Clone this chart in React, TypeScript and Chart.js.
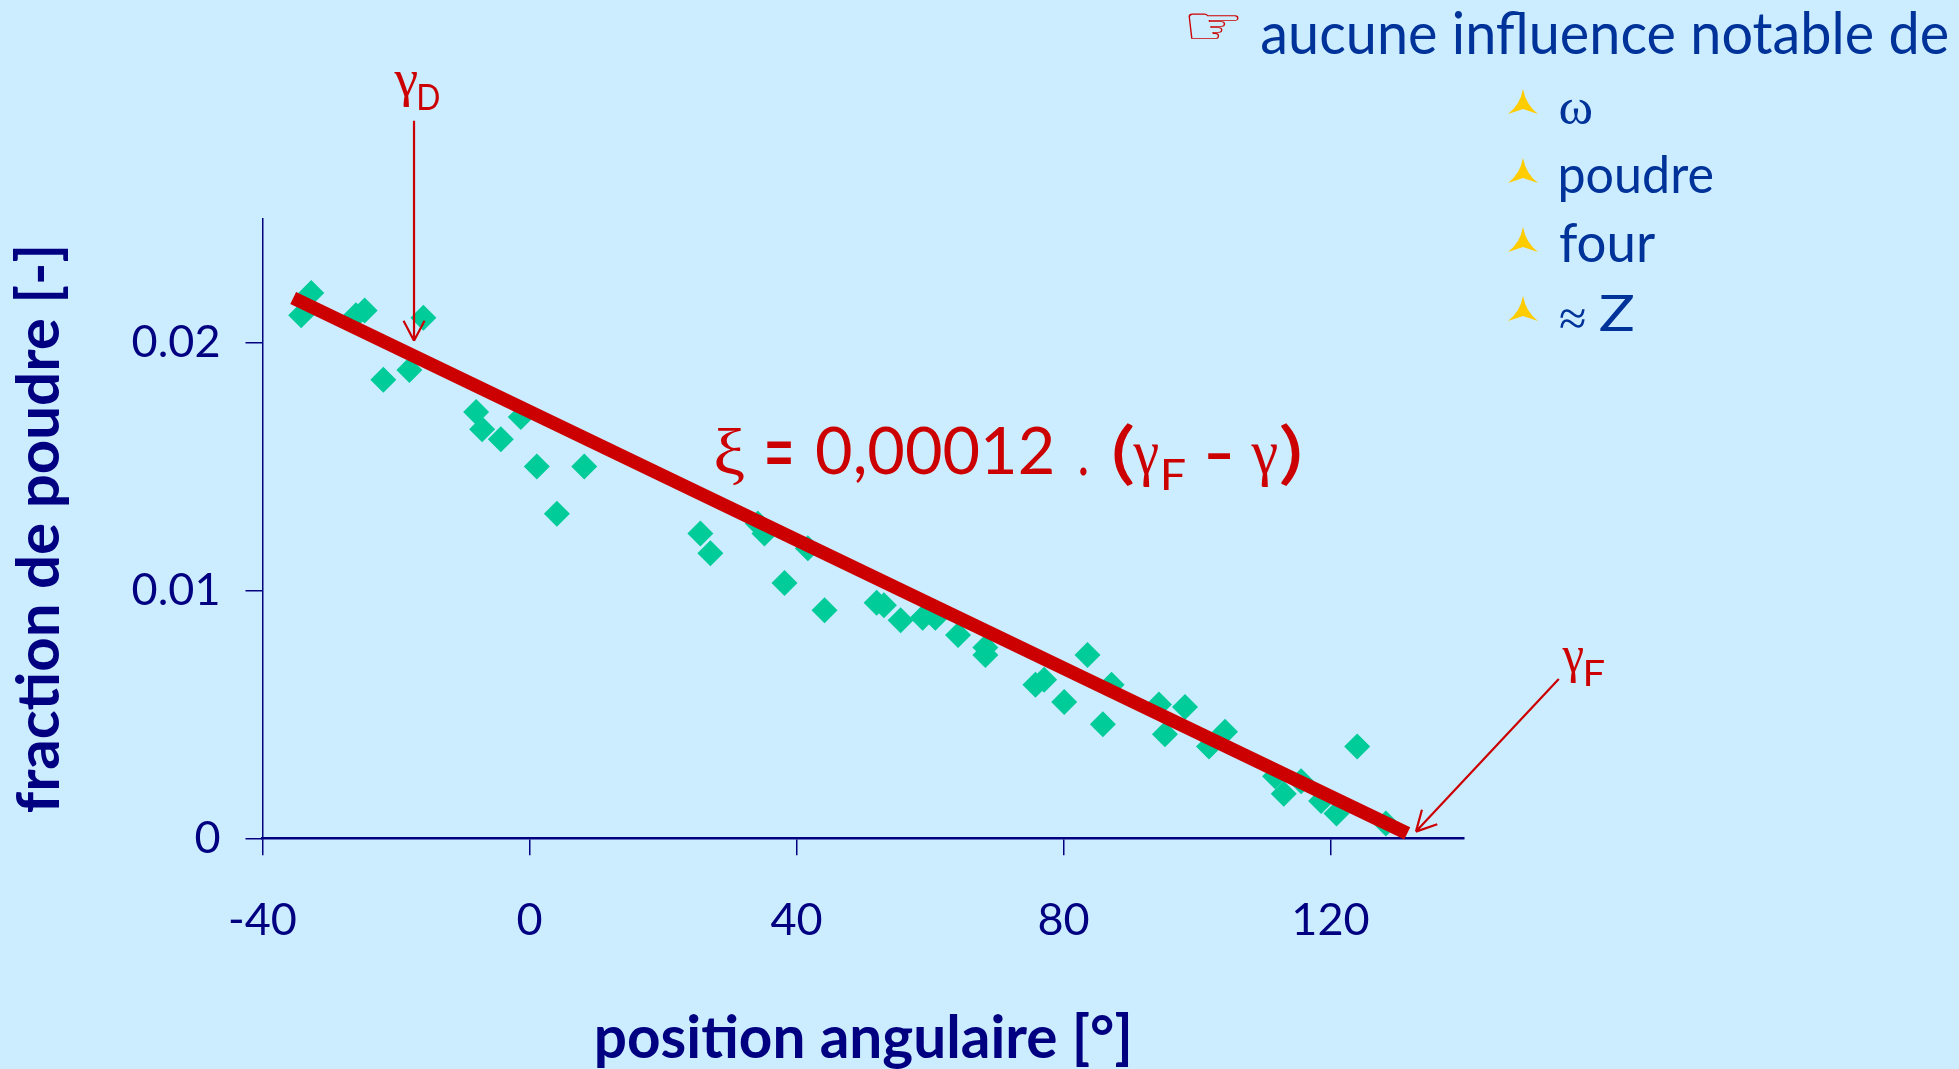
import React, { useEffect, useRef } from "react";
import { Chart, registerables } from "chart.js";

Chart.register(...registerables);

const angleDeg = [-34.2,-32.7,-26.0,-24.7,-15.9,-21.9,-18.0,-8.0,-7.1,-4.3,-1.3,1.1,4.1,8.2,25.6,27.1,34.2,35.2,38.2,41.7,44.2,52.0,53.1,55.6,58.9,60.8,64.2,68.3,68.3,75.8,77.1,80.1,83.6,85.9,87.2,94.3,95.2,98.2,101.8,104.2,111.7,113.0,115.6,118.6,120.9,124.0,128.3];
const powderFraction = [0.0211,0.0220,0.0211,0.0213,0.0210,0.0185,0.0189,0.0172,0.0165,0.0161,0.0170,0.0150,0.0131,0.0150,0.0123,0.0115,0.0127,0.0123,0.0103,0.0117,0.0092,0.0095,0.0094,0.0088,0.0089,0.0089,0.0082,0.0077,0.0074,0.0062,0.0064,0.0055,0.0074,0.0046,0.0062,0.0054,0.0042,0.0053,0.0037,0.0043,0.0025,0.0018,0.0023,0.0015,0.0010,0.0037,0.0006];
const fitX = [-35.4, 131.5];
const fitY = [0.0218, 0.0002];
const arrowGammaD = { fromX: -17.3, fromY: 0.02895, toX: -17.3, toY: 0.02008 };
const arrowGammaF = { fromX: 154.2, fromY: 0.00643, toX: 132.8, toY: 0.00027 };
const xTickValues = [-40, 0, 40, 80, 120];
const yTickLabels: Record<string, string> = { "0": "0", "0.01": "0.01", "0.02": "0.02" };

const RED = "#CC0000";
const NAVY = "#000080";
const BLUE = "#003399";
const YELLOW = "#FFCC00";
const GREEN = "#00CC99";
const BG = "#CCECFF";
const SANS = "Lato";
const SERIF = "'Liberation Serif'";
const DEJAVU = "'DejaVu Sans'";

// text, family, colour, ink box: left, right, top, bottom
type T = [string, string, string, number, number, number, number];
const texts: T[] = [
  ["\u261E", DEJAVU, RED, 1188, 1239, 14, 39],
  ["aucune influence notable de", SANS, BLUE, 1262, 1947, 12, 55],
  ["\u03C9", SERIF, BLUE, 1560, 1591, 100, 124],
  ["poudre", SANS, BLUE, 1561, 1712, 154.5, 202],
  ["four", SANS, BLUE, 1560, 1655, 223, 263],
  ["\u2248", SERIF, BLUE, 1560, 1585, 308.6, 327.6],
  ["Z", SANS, BLUE, 1600, 1633, 295, 331],
  ["\u03BE", SERIF, RED, 716, 744, 429, 486],
  ["=", SANS, RED, 767, 791, 441, 464],
  ["0,00012", SANS, RED, 817, 1052, 425, 483],
  [".", SANS, RED, 1080, 1087, 467, 476],
  ["(", SANS, RED, 1114, 1133, 422, 486],
  ["\u03B3", SERIF, RED, 1133, 1158, 443, 486],
  ["F", SANS, RED, 1164, 1185, 459, 490],
  ["-", SANS, RED, 1208, 1230, 453, 459],
  ["\u03B3", SERIF, RED, 1251, 1277, 443, 486],
  [")", SANS, RED, 1281, 1300, 422, 486],
  ["\u03B3", SERIF, RED, 394, 417, 71, 107],
  ["D", SANS, RED, 419, 439, 83, 110],
  ["\u03B3", SERIF, RED, 1562, 1583, 648, 683],
  ["F", SANS, RED, 1586, 1604, 659, 686],
];
const bulletTops = [89, 158, 227, 296];

const overlay = {
  id: "overlay",
  afterDraw(chart: any) {
    const { ctx, scales } = chart;
    ctx.save();
    ctx.strokeStyle = RED;
    ctx.lineWidth = 2.2;
    for (const a of [arrowGammaD, arrowGammaF]) {
      const x0 = scales.x.getPixelForValue(a.fromX);
      const y0 = scales.y.getPixelForValue(a.fromY);
      const x1 = scales.x.getPixelForValue(a.toX);
      const y1 = scales.y.getPixelForValue(a.toY);
      const ang = Math.atan2(y1 - y0, x1 - x0);
      ctx.beginPath();
      ctx.moveTo(x0, y0);
      ctx.lineTo(x1, y1);
      for (const s of [-1, 1]) {
        ctx.moveTo(x1, y1);
        ctx.lineTo(x1 - 20 * Math.cos(ang) - s * 10.5 * Math.sin(ang), y1 - 20 * Math.sin(ang) + s * 10.5 * Math.cos(ang));
      }
      ctx.stroke();
    }
    ctx.fillStyle = YELLOW;
    for (const t of bulletTops) {
      ctx.beginPath();
      ctx.moveTo(1523, t);
      ctx.quadraticCurveTo(1526, t + 16, 1538, t + 25);
      ctx.lineTo(1523, t + 20);
      ctx.lineTo(1508, t + 25);
      ctx.quadraticCurveTo(1520, t + 16, 1523, t);
      ctx.closePath();
      ctx.fill();
    }
    ctx.textBaseline = "alphabetic";
    ctx.textAlign = "left";
    for (const [s, family, color, left, right, top, bottom] of texts) {
      ctx.font = `100px ${family}`;
      ctx.fillStyle = color;
      const m = ctx.measureText(s);
      const inkW = m.actualBoundingBoxLeft + m.actualBoundingBoxRight;
      const inkH = m.actualBoundingBoxAscent + m.actualBoundingBoxDescent;
      const sx = (right - left) / inkW;
      const sy = (bottom - top) / inkH;
      ctx.save();
      ctx.translate(left + m.actualBoundingBoxLeft * sx, top + m.actualBoundingBoxAscent * sy);
      ctx.scale(sx, sy);
      ctx.fillText(s, 0, 0);
      ctx.restore();
    }
    ctx.restore();
  },
};

export default function App() {
  const ref = useRef<HTMLCanvasElement>(null);
  useEffect(() => {
    document.body.style.margin = "0";
    document.body.style.background = BG;
    const chart = new Chart(ref.current!, {
      type: "scatter",
      data: {
        datasets: [
          {
            data: fitX.map((x, i) => ({ x, y: fitY[i] })),
            showLine: true,
            borderColor: RED,
            borderWidth: 13.5,
            borderCapStyle: "butt",
            pointRadius: 0,
            clip: false,
            order: 1,
          },
          {
            data: angleDeg.map((x, i) => ({ x, y: powderFraction[i] })),
            showLine: false,
            pointStyle: "rectRot",
            pointRadius: 13,
            backgroundColor: GREEN,
            borderWidth: 0,
            clip: false,
            order: 2,
          },
        ],
      },
      plugins: [overlay],
      options: {
        animation: false,
        responsive: false,
        devicePixelRatio: 1,
        layout: { padding: { left: 0, top: 218.7, right: 495, bottom: 0 } },
        plugins: { legend: { display: false }, tooltip: { enabled: false }, title: { display: false } },
        scales: {
          x: {
            type: "linear",
            min: -40,
            max: 140,
            afterFit: (s: any) => { s.height = 230.7; },
            afterBuildTicks: (s: any) => { s.ticks = xTickValues.map((value) => ({ value })); },
            border: { color: NAVY, width: 2.5 },
            grid: { drawOnChartArea: false, drawTicks: true, tickLength: 17, color: NAVY, lineWidth: 1.5 },
            ticks: {
              color: NAVY,
              font: { family: SANS, size: 45 },
              padding: 38,
              maxRotation: 0,
              autoSkip: false,
              callback: (v: any) => String(v),
            },
            title: {
              display: true,
              text: "position angulaire [\u00B0]",
              color: NAVY,
              font: { family: SANS, size: 58.5, weight: "bold", lineHeight: 1 },
              padding: { top: 0, bottom: 1 },
            },
          },
          y: {
            type: "linear",
            min: 0,
            max: 0.025,
            afterFit: (s: any) => { s.width = 262.5; },
            afterBuildTicks: (s: any) => { s.ticks = Object.keys(yTickLabels).map((k) => ({ value: Number(k) })); },
            border: { color: NAVY, width: 1.5 },
            grid: { drawOnChartArea: false, drawTicks: true, tickLength: 17, color: NAVY, lineWidth: 1.5 },
            ticks: {
              color: NAVY,
              font: { family: SANS, size: 45 },
              padding: 25,
              autoSkip: false,
              callback: (v: any) => yTickLabels[String(v)] ?? "",
            },
            title: {
              display: true,
              text: "fraction de poudre [-]",
              color: NAVY,
              font: { family: SANS, size: 60, weight: "bold", lineHeight: 1 },
              padding: { top: 10, bottom: 0 },
            },
          },
        },
      },
    } as any);
    return () => chart.destroy();
  }, []);
  return <canvas ref={ref} width={1959} height={1069} style={{ display: "block", width: 1959, height: 1069, background: BG }} />;
}
